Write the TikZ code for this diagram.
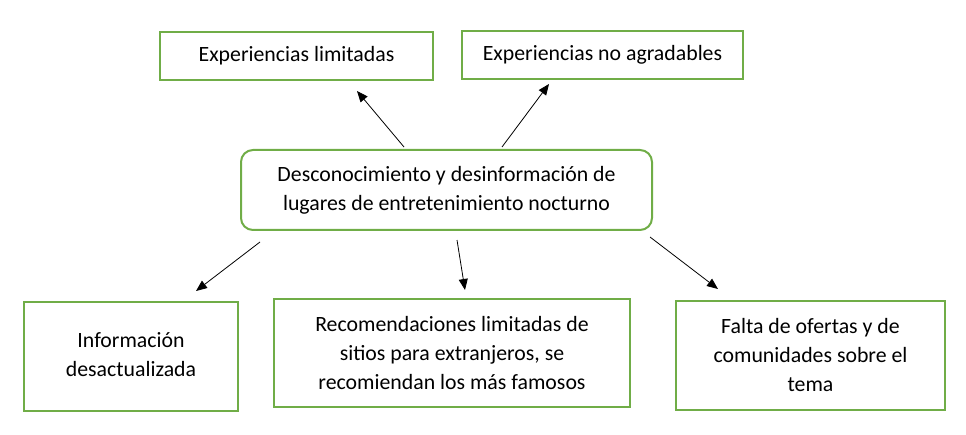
\documentclass[tikz,border=0pt]{standalone}
\usepackage{fontspec}
\setmainfont{Carlito}
\usetikzlibrary{arrows.meta}
\definecolor{boxgreen}{HTML}{70AD47}
\begin{document}
\begin{tikzpicture}[x=1pt, y=1pt,
    box/.style = {draw=boxgreen, line width=2pt, align=center, inner sep=0pt,
                  font=\fontsize{21.8}{29}\selectfont},
    arr/.style = {-{Triangle[length=11pt,width=9pt]}, line width=0.8pt}]
    \useasboundingbox (0,0) rectangle (966,434);
    \node[box, minimum width=273, minimum height=48] (lim) at (296.5,378) {Experiencias limitadas};
    \node[box, minimum width=281, minimum height=48] (noagr) at (602.5,379) {Experiencias no agradables};
    \node[box, rounded corners=12pt, minimum width=411, minimum height=80] (ctr) at (446.5,244)
        {Desconocimiento y desinformación de\\lugares de entretenimiento nocturno};
    \node[box, minimum width=214, minimum height=109] (info) at (131,77.5)
        {\raisebox{7pt}{\begin{tabular}{@{}c@{}}Información\\desactualizada\end{tabular}}};
    \node[box, minimum width=356, minimum height=108] (recom) at (452,81)
        {Recomendaciones limitadas de\\sitios para extranjeros, se\\recomiendan los más famosos};
    \node[box, minimum width=269, minimum height=109] (falta) at (810.5,78.5)
        {Falta de ofertas y de\\comunidades sobre el\\tema};
    %arrows up
    \draw[arr] ([xshift=-42.5pt,yshift=2pt]ctr.north) -- ([xshift=60.5pt,yshift=-10pt]lim.south);
    \draw[arr] ([xshift=55.5pt,yshift=2pt]ctr.north) -- ([xshift=-53.5pt,yshift=-4pt]noagr.south);
    %arrows down
    \draw[arr] ([xshift=-186.5pt,yshift=-11pt]ctr.south) -- ([xshift=65pt,yshift=10pt]info.north);
    \draw[arr] ([xshift=10.5pt,yshift=-9pt]ctr.south) -- ([xshift=13pt,yshift=8pt]recom.north);
    \draw[arr] ([xshift=203.5pt,yshift=-6pt]ctr.south) -- ([xshift=-92.5pt,yshift=11pt]falta.north);
\end{tikzpicture}
\end{document}
